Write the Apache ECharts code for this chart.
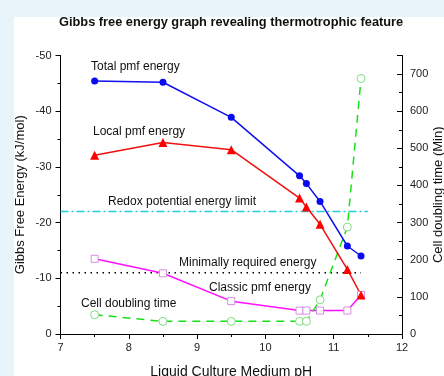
<!DOCTYPE html>
<html>
<head>
<meta charset="utf-8">
<script src="https://cdn.jsdelivr.net/npm/echarts@6/dist/echarts.min.js"></script>
<style>
  body { margin: 0; background: #e8f4fa; }
  #panel { position: absolute; left: 14px; top: 17px; width: 430px; height: 359px; background: #fff; }
  #main { position: absolute; left: 0; top: 0; width: 444px; height: 376px; }
</style>
</head>
<body>
<div id="panel"></div>
<div id="main"></div>
<script>
// pH values shared by all four curves
const ph = [7.5, 8.5, 9.5, 10.5, 10.6, 10.8, 11.2, 11.4];
const totalPmf = [-45.4, -45.2, -38.9, -28.4, -27.0, -23.8, -15.8, -14.0];
const localPmf = [-32.1, -34.4, -33.1, -24.4, -22.8, -19.7, -11.6, -7.0];
const classicPmf = [-13.5, -10.9, -5.9, -4.2, -4.2, -4.2, -4.2, -7.0];
const doublingTime = [52, 34, 34, 34, 34, 92, 288, 688];

// horizontal reference levels
const redoxLimit = [[7, -22], [11.5, -22]];
const minRequired = [[7, -11], [11.4, -11]];

const font = "'Liberation Sans', Arial, sans-serif";

function pairs(ys) {
  return ph.map((x, i) => [x, ys[i]]);
}

const chart = echarts.init(document.getElementById('main'));

const axisBase = {
  axisLine: { show: true, lineStyle: { color: '#000', width: 1 } },
  axisTick: { show: true, length: 5, lineStyle: { color: '#000' } },
  minorTick: { show: true, splitNumber: 2, length: 3, lineStyle: { color: '#000' } },
  splitLine: { show: false },
  axisLabel: { color: '#222', fontSize: 11, fontFamily: font }
};

const option = {
  animation: false,
  title: {
    text: 'Gibbs free energy graph revealing thermotrophic feature',
    left: 59,
    top: 16,
    padding: 0,
    textStyle: { fontSize: 12.8, fontWeight: 'bold', color: '#111', fontFamily: font }
  },
  grid: { left: 60.5, right: 42, top: 55.5, bottom: 42, outerBoundsMode: 'none', containLabel: false },
  xAxis: {
    ...axisBase,
    type: 'value',
    min: 7,
    max: 12,
    interval: 1,
    name: 'Liquid Culture Medium pH',
    nameLocation: 'middle',
    nameGap: 31,
    nameTextStyle: { fontSize: 14, color: '#111', fontFamily: font },
    axisLabel: { ...axisBase.axisLabel, margin: 8 }
  },
  yAxis: [
    {
      ...axisBase,
      type: 'value',
      min: -50,
      max: 0,
      interval: 10,
      inverse: true,
      name: 'Gibbs Free Energy (kJ/mol)',
      nameLocation: 'middle',
      nameRotate: 90,
      nameGap: 34,
      nameMoveOverlap: false,
      nameTextStyle: { fontSize: 13, color: '#111', fontFamily: font },
      axisLabel: { ...axisBase.axisLabel, margin: 9 }
    },
    {
      ...axisBase,
      type: 'value',
      position: 'right',
      min: 0,
      max: 750,
      interval: 100,
      name: 'Cell doubling time (Min)',
      nameLocation: 'middle',
      nameRotate: 90,
      nameGap: 30,
      nameMoveOverlap: false,
      nameTextStyle: { fontSize: 13, color: '#111', fontFamily: font },
      axisTick: { ...axisBase.axisTick, inside: true },
      minorTick: { ...axisBase.minorTick },
      axisLabel: {
        ...axisBase.axisLabel,
        margin: 8,
        formatter: v => (v > 700 ? '' : v)
      }
    }
  ],
  series: [
    {
      name: 'Redox potential energy limit',
      type: 'line',
      data: redoxLimit,
      symbol: 'none',
      lineStyle: { color: '#1fd0d8', width: 1.5, type: [8, 3, 2, 3] },
      z: 1
    },
    {
      name: 'Minimally required energy',
      type: 'line',
      data: minRequired,
      symbol: 'none',
      lineStyle: { color: '#000', width: 1.5, type: [1.5, 4.5] },
      z: 1
    },
    {
      name: 'Classic pmf energy',
      type: 'line',
      data: pairs(classicPmf),
      symbol: 'rect',
      symbolSize: 7,
      lineStyle: { color: '#ff10ff', width: 1.5 },
      itemStyle: { color: '#fff', borderColor: '#d78ee0', borderWidth: 1 }
    },
    {
      name: 'Cell doubling time',
      type: 'line',
      yAxisIndex: 1,
      data: pairs(doublingTime),
      symbol: 'circle',
      symbolSize: 8,
      lineStyle: { color: '#18e018', width: 1.5, type: [8, 6] },
      itemStyle: { color: '#fff', borderColor: '#7ddc7d', borderWidth: 1 }
    },
    {
      name: 'Total pmf energy',
      type: 'line',
      data: pairs(totalPmf),
      symbol: 'circle',
      symbolSize: 7,
      lineStyle: { color: '#1010f0', width: 1.5 },
      itemStyle: { color: '#0a0af0' }
    },
    {
      name: 'Local pmf energy',
      type: 'line',
      data: pairs(localPmf),
      symbol: 'triangle',
      symbolSize: 9,
      lineStyle: { color: '#f01010', width: 1.5 },
      itemStyle: { color: '#f00' }
    }
  ],
  graphic: [
    ['Total pmf energy', 91, 67],
    ['Local pmf energy', 93, 132],
    ['Redox potential energy limit', 108, 202],
    ['Minimally required energy', 179, 263],
    ['Classic pmf energy', 209, 288],
    ['Cell doubling time', 81, 304]
  ].map(([text, x, y]) => ({
    type: 'text',
    x: x,
    y: y,
    z: 10,
    style: { text: text, font: '12px ' + font, fill: '#111', verticalAlign: 'middle' }
  }))
};

chart.setOption(option);
</script>
</body>
</html>
